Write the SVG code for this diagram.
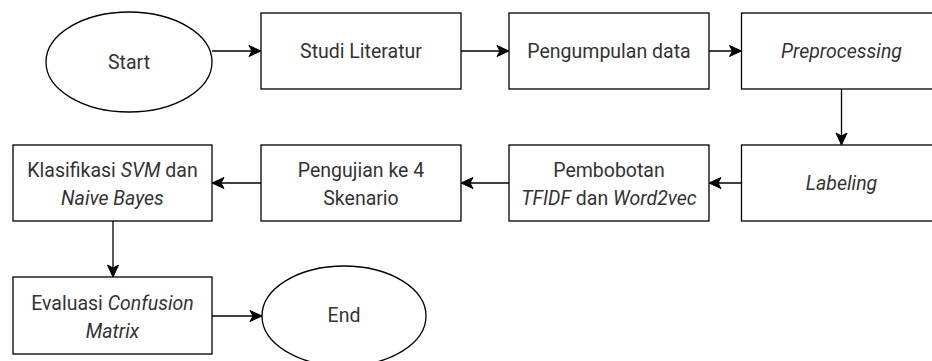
<svg xmlns="http://www.w3.org/2000/svg" width="932" height="361" viewBox="0 0 932 361">
<style>
.n{fill:#fff;stroke:#000;stroke-width:1.3}
.t{font-family:Roboto,"Liberation Sans",sans-serif;font-size:19.5px;fill:#333;text-anchor:middle}
.i{font-style:italic}
.c{stroke:#000;stroke-width:1.3;fill:none;marker-end:url(#a)}
</style>
<defs>
<marker id="a" markerUnits="userSpaceOnUse" markerWidth="14" markerHeight="14" viewBox="0 0 14 14" refX="13" refY="7" orient="auto">
<path d="M1,1.5 L13,7 L1,12.5 L4,7 Z" fill="#000" stroke="#000" stroke-width="1"/>
</marker>
</defs>
<g id="start"><ellipse class="n" cx="129" cy="62" rx="83" ry="50"/><text class="t" x="129" y="69">Start</text></g>
<g id="studi"><rect class="n" x="261" y="13" width="200" height="76"/><text class="t" x="361" y="58">Studi Literatur</text></g>
<g id="pengumpulan"><rect class="n" x="509" y="13" width="200" height="76"/><text class="t" x="609" y="58">Pengumpulan data</text></g>
<g id="preprocessing"><rect class="n" x="741.5" y="13" width="200" height="76"/><text class="t i" x="841.5" y="58">Preprocessing</text></g>
<g id="labeling"><rect class="n" x="741.5" y="145" width="200" height="76"/><text class="t i" x="841.5" y="190">Labeling</text></g>
<g id="pembobotan"><rect class="n" x="509" y="145" width="200" height="76"/><text class="t" x="609" y="176.5">Pembobotan</text><text class="t" x="609" y="204.5"><tspan class="i">TFIDF</tspan> dan <tspan class="i">Word2vec</tspan></text></g>
<g id="pengujian"><rect class="n" x="261" y="145" width="200" height="76"/><text class="t" x="361" y="176.5">Pengujian ke 4</text><text class="t" x="361" y="204.5">Skenario</text></g>
<g id="klasifikasi"><rect class="n" x="13" y="145" width="199" height="76"/><text class="t" x="112.5" y="176.5">Klasifikasi <tspan class="i">SVM</tspan> dan</text><text class="t" x="112.5" y="204.5"><tspan class="i">Naive Bayes</tspan></text></g>
<g id="evaluasi"><rect class="n" x="13" y="277" width="199" height="77"/><text class="t" x="112.5" y="309.5">Evaluasi <tspan class="i">Confusion</tspan></text><text class="t" x="112.5" y="337.5"><tspan class="i">Matrix</tspan></text></g>
<g id="end"><ellipse class="n" cx="344" cy="316" rx="82" ry="50"/><text class="t" x="344" y="321.5">End</text></g>
<g id="connectors">
<path class="c" d="M212,51 H261"/>
<path class="c" d="M461,51 H509"/>
<path class="c" d="M709,51 H741.5"/>
<path class="c" d="M841.5,89 V145"/>
<path class="c" d="M741.5,183 H709"/>
<path class="c" d="M509,183 H461"/>
<path class="c" d="M261,183 H212"/>
<path class="c" d="M113,221 V277"/>
<path class="c" d="M212,316 H262"/>
</g>
</svg>
